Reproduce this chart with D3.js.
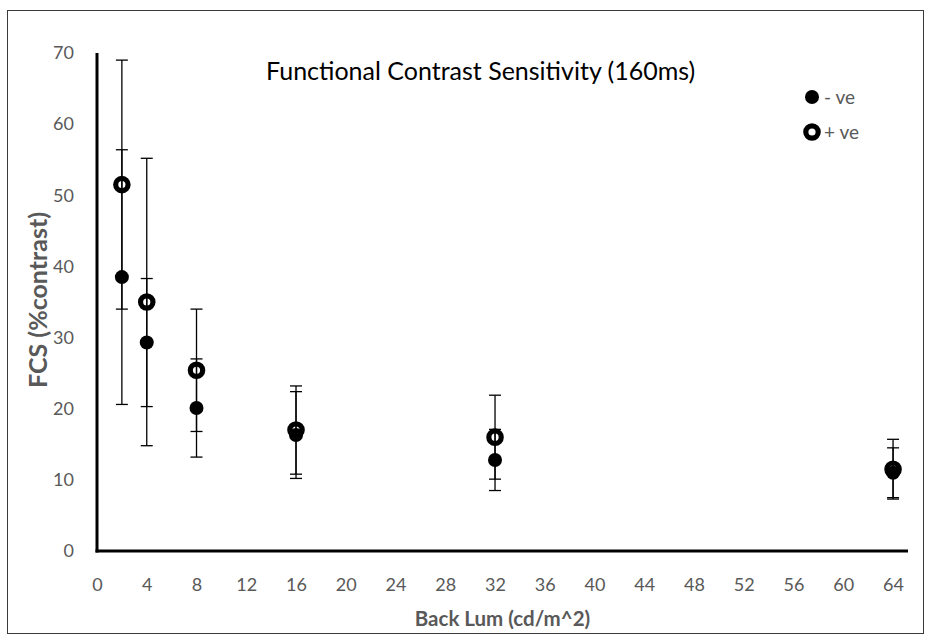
<!DOCTYPE html>
<html>
<head>
<meta charset="utf-8">
<script src="https://cdn.jsdelivr.net/npm/d3@7"></script>
<style>
  body { margin: 0; background: #fff; }
  svg { display: block; font-family: Lato, "Open Sans", sans-serif; }
</style>
</head>
<body>
<svg id="chart" width="930" height="638"></svg>
<script>
// ---- data ----
const backLum = [2, 4, 8, 16, 32, 64];
const negVals = [38.5, 29.3, 20.1, 16.3, 12.8, 11.0];
const negErr  = [17.9, 9.0, 6.9, 6.1, 4.3, 3.5];
const posVals = [51.5, 35.0, 25.4, 17.0, 16.0, 11.5];
const posErr  = [17.5, 20.2, 8.6, 6.2, 5.9, 4.2];
const xTicks = [0, 4, 8, 12, 16, 20, 24, 28, 32, 36, 40, 44, 48, 52, 56, 60, 64];
const yTicks = [0, 10, 20, 30, 40, 50, 60, 70];
const seriesNames = ["- ve", "+ ve"];
const titleText = "Functional Contrast Sensitivity (160ms)";
const xTitle = "Back Lum (cd/m^2)";
const yTitle = "FCS (%contrast)";

const svg = d3.select("#chart");

// outer border
svg.append("rect").attr("x", 7.5).attr("y", 10.5).attr("width", 916).attr("height", 623)
  .attr("fill", "#fff").attr("stroke", "#3a3a3a").attr("stroke-width", 1);

const x = d3.scaleLinear().domain([0, 65]).range([97, 905.5]);
const y = d3.scaleLinear().domain([0, 70]).range([551, 53]);

const gray = "#595959";
const tickFont = 18;

// axes
const xAxis = d3.axisBottom(x).tickValues(xTicks).tickSize(0).tickPadding(27);
const gx = svg.append("g").attr("transform", `translate(0,${y(0)})`).call(xAxis);
gx.select(".domain").remove();
gx.selectAll("text").attr("fill", gray).attr("font-size", tickFont).attr("font-family", "Lato, sans-serif");

const yAxis = d3.axisLeft(y).tickValues(yTicks).tickSize(0).tickPadding(23);
const gy = svg.append("g").attr("transform", `translate(${x(0)},0)`).call(yAxis);
gy.select(".domain").remove();
gy.selectAll("text").attr("fill", gray).attr("font-size", tickFont).attr("font-family", "Lato, sans-serif");

// axis lines (thick)
svg.append("line").attr("x1", x(0)).attr("x2", x(0)).attr("y1", y(70)).attr("y2", y(0) + 1.5)
  .attr("stroke", "#000").attr("stroke-width", 3);
svg.append("line").attr("x1", x(0) - 1.5).attr("x2", 908).attr("y1", y(0)).attr("y2", y(0))
  .attr("stroke", "#000").attr("stroke-width", 3);

// titles
svg.append("text").attr("x", 266).attr("y", 80).attr("font-size", 25).attr("fill", "#000")
  .text(titleText);
svg.append("text").attr("x", (x(0) + 908) / 2).attr("y", 626).attr("text-anchor", "middle")
  .attr("font-size", 20.5).attr("font-weight", "bold").attr("fill", gray).text(xTitle);
svg.append("text").attr("transform", `translate(47,${300}) rotate(-90)`)
  .attr("text-anchor", "middle").attr("font-size", 25).attr("font-weight", "bold")
  .attr("fill", gray).text(yTitle);

// error bars
const series = [
  { vals: negVals, err: negErr, name: seriesNames[0] },
  { vals: posVals, err: posErr, name: seriesNames[1] }
];
const capW = 6;
series.forEach(s => {
  const g = svg.append("g");
  backLum.forEach((bx, i) => {
    const cx = x(bx), hi = y(s.vals[i] + s.err[i]), lo = y(s.vals[i] - s.err[i]);
    g.append("line").attr("x1", cx).attr("x2", cx).attr("y1", hi).attr("y2", lo)
      .attr("stroke", "#000").attr("stroke-width", 1.3);
    [hi, lo].forEach(yy => g.append("line").attr("x1", cx - capW).attr("x2", cx + capW)
      .attr("y1", yy).attr("y2", yy).attr("stroke", "#000").attr("stroke-width", 1.3));
  });
});

// markers: filled (- ve)
svg.append("g").selectAll("circle").data(backLum).join("circle")
  .attr("cx", d => x(d)).attr("cy", (d, i) => y(negVals[i])).attr("r", 7).attr("fill", "#000");
// open (+ ve)
svg.append("g").selectAll("circle").data(backLum).join("circle")
  .attr("cx", d => x(d)).attr("cy", (d, i) => y(posVals[i])).attr("r", 6.2)
  .attr("fill", "none").attr("stroke", "#000").attr("stroke-width", 5.2);

// legend
const lg = svg.append("g");
lg.append("circle").attr("cx", 812).attr("cy", 97).attr("r", 7).attr("fill", "#000");
lg.append("text").attr("x", 824).attr("y", 104).attr("font-size", 19).attr("fill", gray).text(seriesNames[0]);
lg.append("circle").attr("cx", 812).attr("cy", 132).attr("r", 6.2).attr("fill", "#fff")
  .attr("stroke", "#000").attr("stroke-width", 5.2);
lg.append("text").attr("x", 824).attr("y", 139).attr("font-size", 19).attr("fill", gray).text(seriesNames[1]);
</script>
</body>
</html>
